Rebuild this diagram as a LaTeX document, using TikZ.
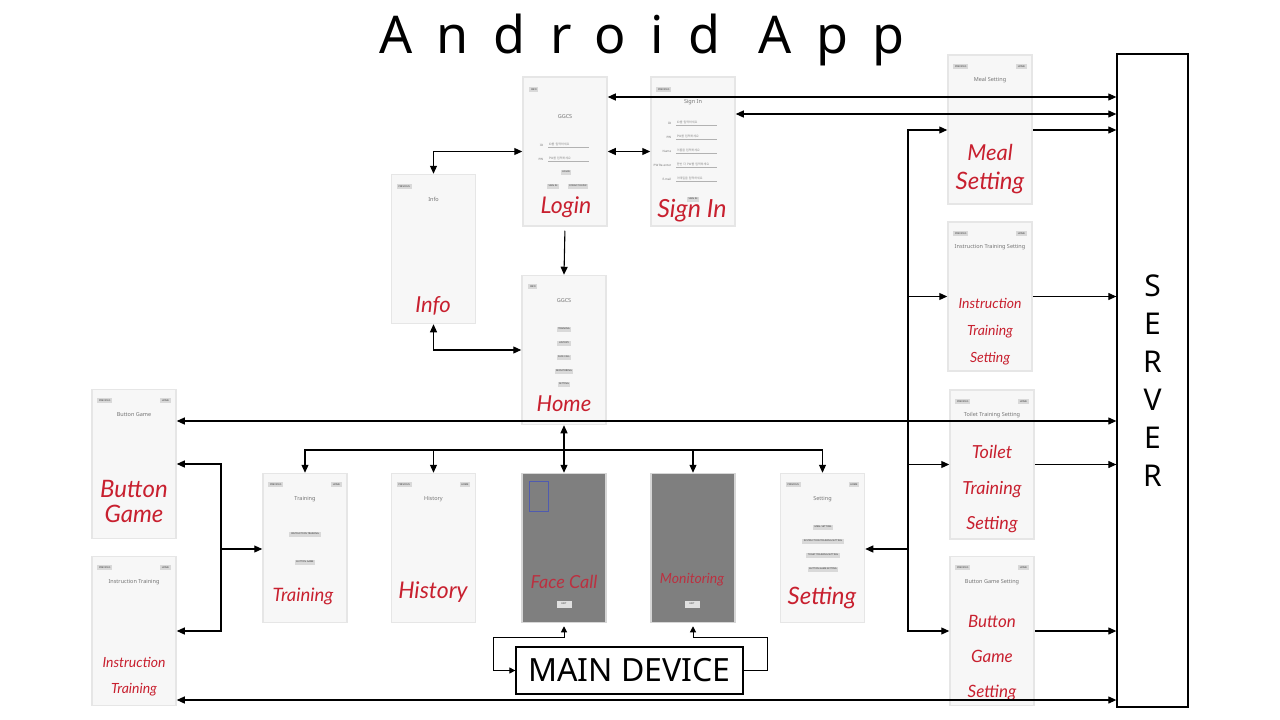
\documentclass[tikz,border=0pt]{standalone}
\usepackage{fontspec}
\setmainfont{Noto Sans}
\newfontfamily\kfont{Noto Sans CJK KR}
\newfontfamily\handfont{Lato}
\usepackage{tikz}
\usetikzlibrary{arrows.meta,positioning,calc}
\definecolor{scrfill}{HTML}{F7F7F7}
\definecolor{scrline}{HTML}{E6E6E6}
\definecolor{scrdark}{HTML}{7F7F7F}
\definecolor{scrdarkline}{HTML}{D6D6D6}
\definecolor{btngrey}{HTML}{D9D9D9}
\definecolor{handred}{HTML}{C8202F}
\definecolor{handdark}{HTML}{BC3040}
\definecolor{camblue}{HTML}{4F5BB0}
\tikzset{
  screen/.style={draw=scrline, fill=scrfill, line width=1.5pt, minimum width=84pt, minimum height=149pt, inner sep=0pt},
  darkscreen/.style={screen, draw=scrdarkline, fill=scrdark},
  btn/.style={fill=btngrey, text=black!80, font=\fontsize{2.4}{3}\selectfont, inner xsep=1.6pt, inner ysep=0pt, minimum height=5pt},
  caption/.style={text=black!55, font=\fontsize{5.5}{6.5}\selectfont, inner sep=0pt},
  hint/.style={text=black!45, font=\kfont\fontsize{3}{4}\selectfont, inner sep=0.6pt, text width=39pt, anchor=south west},
  hintlbl/.style={text=black!55, font=\fontsize{3}{4}\selectfont, inner sep=0.6pt, anchor=south east},
  fieldline/.style={draw=black!30, line width=0.4pt},
  hand/.style={text=handred, font=\handfont\itshape\fontsize{#1}{#1}\selectfont, inner sep=0pt, anchor=base},
  hand/.default=23,
  boxed/.style={draw, line width=1.3pt, fill=white, inner sep=0pt},
  link/.style={-{Triangle[length=8pt,width=7pt]}, line width=1.1pt},
  both/.style={{Triangle[length=8pt,width=7pt]}-{Triangle[length=8pt,width=7pt]}, line width=1.1pt},
  devlink/.style={-{Triangle[length=6pt,width=6pt]}, line width=1pt},
  devboth/.style={{Triangle[length=6pt,width=6pt]}-{Triangle[length=6pt,width=6pt]}, line width=1pt}
}

\begin{document}
\begin{tikzpicture}[x=1pt, y=-1pt]
  \useasboundingbox[fill=white] (0,0) rectangle (1280,720);
  \node[font=\fontsize{52}{58}\selectfont\addfontfeature{LetterSpace=47}] (title) at (642,40) {Android App};

  % screens
  \node[screen] (login) at (565,151.5) {};
  \node[screen] (signin) at (693,151.5) {};
  \node[screen] (info) at (433.5,249) {};
  \node[screen] (home) at (564,350) {};
  \node[screen] (btngame) at (134,464) {};
  \node[screen] (insttrain) at (134,631) {};
  \node[screen] (training) at (305,548) {};
  \node[screen] (history) at (433.5,548) {};
  \node[darkscreen] (facecall) at (564,548) {};
  \node[darkscreen] (monitor) at (693,548) {};
  \node[screen] (setting) at (822.5,548) {};
  \node[screen] (meal) at (990,129.5) {};
  \node[screen] (instset) at (990,296.5) {};
  \node[screen] (toilet) at (992,464.5) {};
  \node[screen] (btnset) at (992,631) {};
  \node[boxed, minimum width=71pt, minimum height=653pt] (server) at (1152.5,380.5) {};
  \node[boxed, minimum width=227pt, minimum height=47pt, font=\fontsize{32}{36}\selectfont] (maindev) at (629.5,670.5) {MAIN DEVICE};
  \node[font=\fontsize{30}{38}\selectfont, align=center] (srvtext) at (server.center) {S\\E\\R\\V\\E\\R};

  % top bar buttons
  \foreach \p in {btngame,insttrain,training,history,setting,meal,instset,toilet,btnset} {
    \node[btn, anchor=west] (\p-prev) at ([xshift=6pt,yshift=-12pt]\p.north west) {PREVIOUS};
    \node[btn, anchor=east] (\p-home) at ([xshift=-6pt,yshift=-12pt]\p.north east) {HOME};
  }
  \node[btn, anchor=west] (signin-prev) at ([xshift=6pt,yshift=-13pt]signin.north west) {PREVIOUS};
  \node[btn, anchor=west] (info-prev) at ([xshift=6pt,yshift=-13pt]info.north west) {PREVIOUS};
  \node[btn, anchor=west] (login-info) at ([xshift=7pt,yshift=-13pt]login.north west) {INFO};
  \node[btn, anchor=west] (home-info) at ([xshift=7pt,yshift=-12pt]home.north west) {INFO};

  % screen titles
  \foreach \p/\t in {btngame/Button Game, insttrain/Instruction Training, training/Training,
      history/History, setting/Setting, meal/Meal Setting, instset/Instruction Training Setting,
      toilet/Toilet Training Setting, btnset/Button Game Setting, info/Info, signin/Sign In, home/GGCS}
    \node[caption] (\p-title) at ([yshift=-26pt]\p.north) {\t};
  \node[caption] (login-title) at ([yshift=-40pt]login.north) {GGCS};

  % login form
  \node[hint] (login-id) at (548,147) {ID를 입력하세요};
  \node[hint] (login-pw) at (548,161) {PW를 입력하세요};
  \node[hintlbl] (login-idl) at (544,147) {ID};
  \node[hintlbl] (login-pwl) at (544,161) {PW};
  \draw[fieldline] (login-id.south west) -- (login-id.south east);
  \draw[fieldline] (login-pw.south west) -- (login-pw.south east);
  \node[btn] (login-go) at (566,172) {LOGIN};
  \node[btn] (login-sign) at (553,186) {SIGN IN};
  \node[btn] (login-forgot) at (578,186) {FORGOT ID/PW};

  % sign in form
  \foreach \y/\l/\h [count=\i] in {125/ID/ID를 입력하세요, 139/PW/PW를 입력하세요, 153/Name/이름을 입력하세요,
      167/PW Re-enter/한번 더 PW를 입력하세요, 181/E-mail/이메일을 입력하세요} {
    \node[hintlbl] (sign-l\i) at (672,\y) {\l};
    \node[hint] (sign-f\i) at (676,\y) {\h};
    \draw[fieldline] (sign-f\i.south west) -- (sign-f\i.south east);
  }
  \node[btn] (signin-go) at (693,199) {SIGN IN};

  % menus
  \foreach \y/\t [count=\i] in {329/TRAINING, 343/HISTORY, 357/FACE CALL, 371/MONITORING, 384/SETTING}
    \node[btn] (home-b\i) at (564,\y) {\t};
  \node[btn] (training-b1) at (305,534) {INSTRUCTION TRAINING};
  \node[btn] (training-b2) at (305,562) {BUTTON GAME};
  \foreach \y/\t [count=\i] in {527/MEAL SETTING, 541/INSTRUCTION TRAINING SETTING, 555/TOILET TRAINING SETTING, 569/BUTTON GAME SETTING}
    \node[btn] (setting-b\i) at (823,\y) {\t};
  \node[draw=camblue, line width=1pt, minimum width=19pt, minimum height=30pt, inner sep=0pt] (cam) at (538.5,496) {};
  \node[btn, fill=black!12, minimum width=15pt, minimum height=7pt] (facecall-exit) at (564,604) {EXIT};
  \node[btn, fill=black!12, minimum width=15pt, minimum height=7pt] (monitor-exit) at (692,604) {EXIT};

  % handwritten names
  \node[hand=23] (login-name) at (566,213) {Login};
  \node[hand=25] (signin-name) at (692,217) {Sign In};
  \node[hand=22] (info-name) at (433,312) {Info};
  \node[hand=22] (home-name) at (564,411) {Home};
  \node[hand=24] (btngame-n1) at (134,497) {Button};
  \node[hand=24] (btngame-n2) at (134,522) {Game};
  \node[hand=14] (insttrain-n1) at (134,667) {Instruction};
  \node[hand=14] (insttrain-n2) at (134,693) {Training};
  \node[hand=18.5] (training-name) at (303,601) {Training};
  \node[hand=23] (history-name) at (433,598) {History};
  \node[hand=18, text=handdark] (facecall-name) at (564,588) {Face Call};
  \node[hand=14, text=handdark] (monitor-name) at (692,583) {Monitoring};
  \node[hand=24] (setting-name) at (822,604) {Setting};
  \node[hand=22] (meal-n1) at (990,160) {Meal};
  \node[hand=24] (meal-n2) at (990,189) {Setting};
  \node[hand=14] (instset-n1) at (990,308) {Instruction};
  \node[hand=14] (instset-n2) at (990,335) {Training};
  \node[hand=14] (instset-n3) at (990,362) {Setting};
  \node[hand=18] (toilet-n1) at (992,458) {Toilet};
  \node[hand=18] (toilet-n2) at (992,494) {Training};
  \node[hand=18] (toilet-n3) at (992,529) {Setting};
  \node[hand=17] (btnset-n1) at (992,627) {Button};
  \node[hand=17] (btnset-n2) at (992,662) {Game};
  \node[hand=17] (btnset-n3) at (992,697) {Setting};

  % connections
  \coordinate (lbus) at (221,549);
  \coordinate (rbus) at (908,549);
  \coordinate (fcturn) at (493,637);
  \coordinate (mnturn) at (767,637);
  \draw[both] (login.east |- 0,97) -- (server.west |- 0,97);
  \draw[both] (signin.east |- 0,114) -- (server.west |- 0,114);
  \draw[link] (meal.east |- 0,130) -- (server.west |- 0,130);
  \draw[link] (instset.east) -- (server.west |- instset.east);
  \draw[link] (toilet.east) -- (server.west |- toilet.east);
  \draw[link] (btnset.east) -- (server.west |- btnset.east);
  \draw[both] (btngame.east |- 0,421) -- (server.west |- 0,421);
  \draw[both] (insttrain.east |- 0,700) -- (server.west |- 0,700);
  \draw[both] (login.east) -- (signin.west);
  \draw[both] (login.west) -| (info.north);
  \draw[link, shorten <=4pt] (login.south) -- (home.north);
  \draw[both] (info.south) |- (home.west);
  \draw[both] (home.south) -- (facecall.north);
  \foreach \p in {training,history,monitor,setting}
    \draw[link] (home.south |- 0,450) -| (\p.north);
  \draw[link] (lbus) -- (lbus -| training.west);
  \draw[link] (lbus) |- (btngame.east);
  \draw[link] (lbus) |- (insttrain.east);
  \draw[link] (rbus) -- (rbus -| setting.east);
  \draw[link] (rbus) |- (meal.west |- 0,130);
  \draw[link] (rbus) |- (instset.west);
  \draw[link] (rbus) |- (toilet.west);
  \draw[link] (rbus) |- (btnset.west);
  \draw[devboth, shorten >=3pt] (maindev.west) -| (fcturn) -| (facecall.south);
  \draw[devlink, shorten >=3pt] (maindev.east) -| (mnturn) -| (monitor.south);
\end{tikzpicture}
\end{document}
